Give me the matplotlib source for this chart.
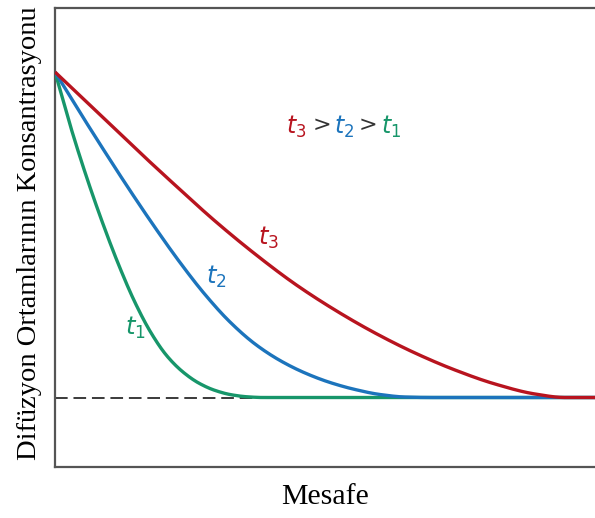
import numpy as np
import matplotlib
matplotlib.use('Agg')
import matplotlib.pyplot as plt

# distance (0..100) and concentration (0 = far-field level, 100 = surface)
t1_x = [0, 2.96, 5.93, 8.89, 11.85, 14.81, 17.78, 20.74, 23.70, 26.67, 29.63, 32.59, 35.56,
        38.52, 100]
t1_y = [100, 82.80, 67.31, 53.30, 40.52, 29.22, 19.88, 12.75, 7.83, 4.39, 2.18, 0.86, 0.22,
        0, 0]

t2_x = [0, 4.63, 9.26, 13.89, 18.52, 23.15, 27.78, 32.41, 37.04, 41.67, 46.30, 50.93, 55.56,
        60.19, 64.81, 69.44, 100]
t2_y = [100, 87.56, 75.42, 63.59, 52.23, 41.47, 31.64, 23.19, 16.44, 11.37, 7.53, 4.61, 2.46,
        0.92, 0.15, 0, 0]

t3_x = [0, 7.41, 14.81, 22.22, 29.63, 37.04, 44.44, 51.85, 59.26, 66.67, 74.07, 81.48, 88.89,
        94.44, 100]
t3_y = [100, 88.33, 76.65, 65.28, 54.22, 44.09, 34.87, 26.88, 19.82, 13.67, 8.45, 4.15, 1.08,
        0, 0]

baseline = 0

RED = '#B8141F'
BLUE = '#1C74BC'
GREEN = '#17966A'


def pchip(x, y, xs):
    # monotone cubic, only used to draw smooth curves through the read points
    x = np.asarray(x, float)
    y = np.asarray(y, float)
    h = np.diff(x)
    d = np.diff(y) / h
    m = np.zeros_like(y)
    for k in range(1, len(x) - 1):
        if d[k - 1] * d[k] > 0:
            w1 = 2 * h[k] + h[k - 1]
            w2 = h[k] + 2 * h[k - 1]
            m[k] = (w1 + w2) / (w1 / d[k - 1] + w2 / d[k])
    m[0] = d[0]
    m[-1] = d[-1]
    out = np.empty_like(xs)
    idx = np.clip(np.searchsorted(x, xs) - 1, 0, len(h) - 1)
    for j, xv in enumerate(xs):
        k = idx[j]
        t = (xv - x[k]) / h[k]
        h00 = 2 * t**3 - 3 * t**2 + 1
        h10 = t**3 - 2 * t**2 + t
        h01 = -2 * t**3 + 3 * t**2
        h11 = t**3 - t**2
        out[j] = h00 * y[k] + h10 * h[k] * m[k] + h01 * y[k + 1] + h11 * h[k] * m[k + 1]
    return out


plt.rcParams['mathtext.fontset'] = 'custom'
plt.rcParams['mathtext.it'] = 'DejaVu Sans:italic'
plt.rcParams['mathtext.rm'] = 'DejaVu Sans'

fig = plt.figure(figsize=(5.95, 5.18), dpi=100)
ax = fig.add_axes([55 / 595, 51 / 518, 540 / 595, 459 / 518])

ax.plot([0, 100], [baseline, baseline], color='#3a3a3a', lw=1.4,
        dashes=(6.5, 3), zorder=1)

xs = np.linspace(0, 100, 800)
for cx, cy, col in [(t1_x, t1_y, GREEN), (t2_x, t2_y, BLUE), (t3_x, t3_y, RED)]:
    ax.plot(xs, pchip(cx, cy, xs), color=col, lw=2.4, solid_capstyle='butt', zorder=3)

ax.set_xlim(0, 100)
ax.set_ylim(-21.35, 119.66)
ax.set_xticks([])
ax.set_yticks([])
ax.spines['right'].set_visible(False)
for s in ['left', 'top', 'bottom']:
    ax.spines[s].set_color('#555555')
    ax.spines[s].set_linewidth(1.6)

lab = dict(fontsize=17.5, ha='center', va='center')
ax.text(39.5, 49.0, r'$t_3$', color=RED, **lab)
ax.text(29.8, 37.2, r'$t_2$', color=BLUE, **lab)
ax.text(14.9, 21.3, r'$t_1$', color=GREEN, **lab)

top = dict(fontsize=17, ha='center', va='center')
ax.text(44.6, 83.0, r'$t_3$', color=RED, **top)
ax.text(49.5, 83.6, '>', color='#333333', fontsize=16, ha='center', va='center')
ax.text(53.6, 83.0, r'$t_2$', color=BLUE, **top)
ax.text(57.9, 83.6, '>', color='#333333', fontsize=16, ha='center', va='center')
ax.text(62.3, 83.0, r'$t_1$', color=GREEN, **top)

ax.set_xlabel('Mesafe', fontfamily='Liberation Serif', fontsize=21.5)
ax.xaxis.set_label_coords(0.5, -0.036)
ax.set_ylabel('Difüzyon Ortamlarının Konsantrasyonu', fontfamily='Liberation Serif',
              fontsize=20.5)
ax.yaxis.set_label_coords(-0.024, 0.51)

fig.savefig('out.png', dpi=100)
